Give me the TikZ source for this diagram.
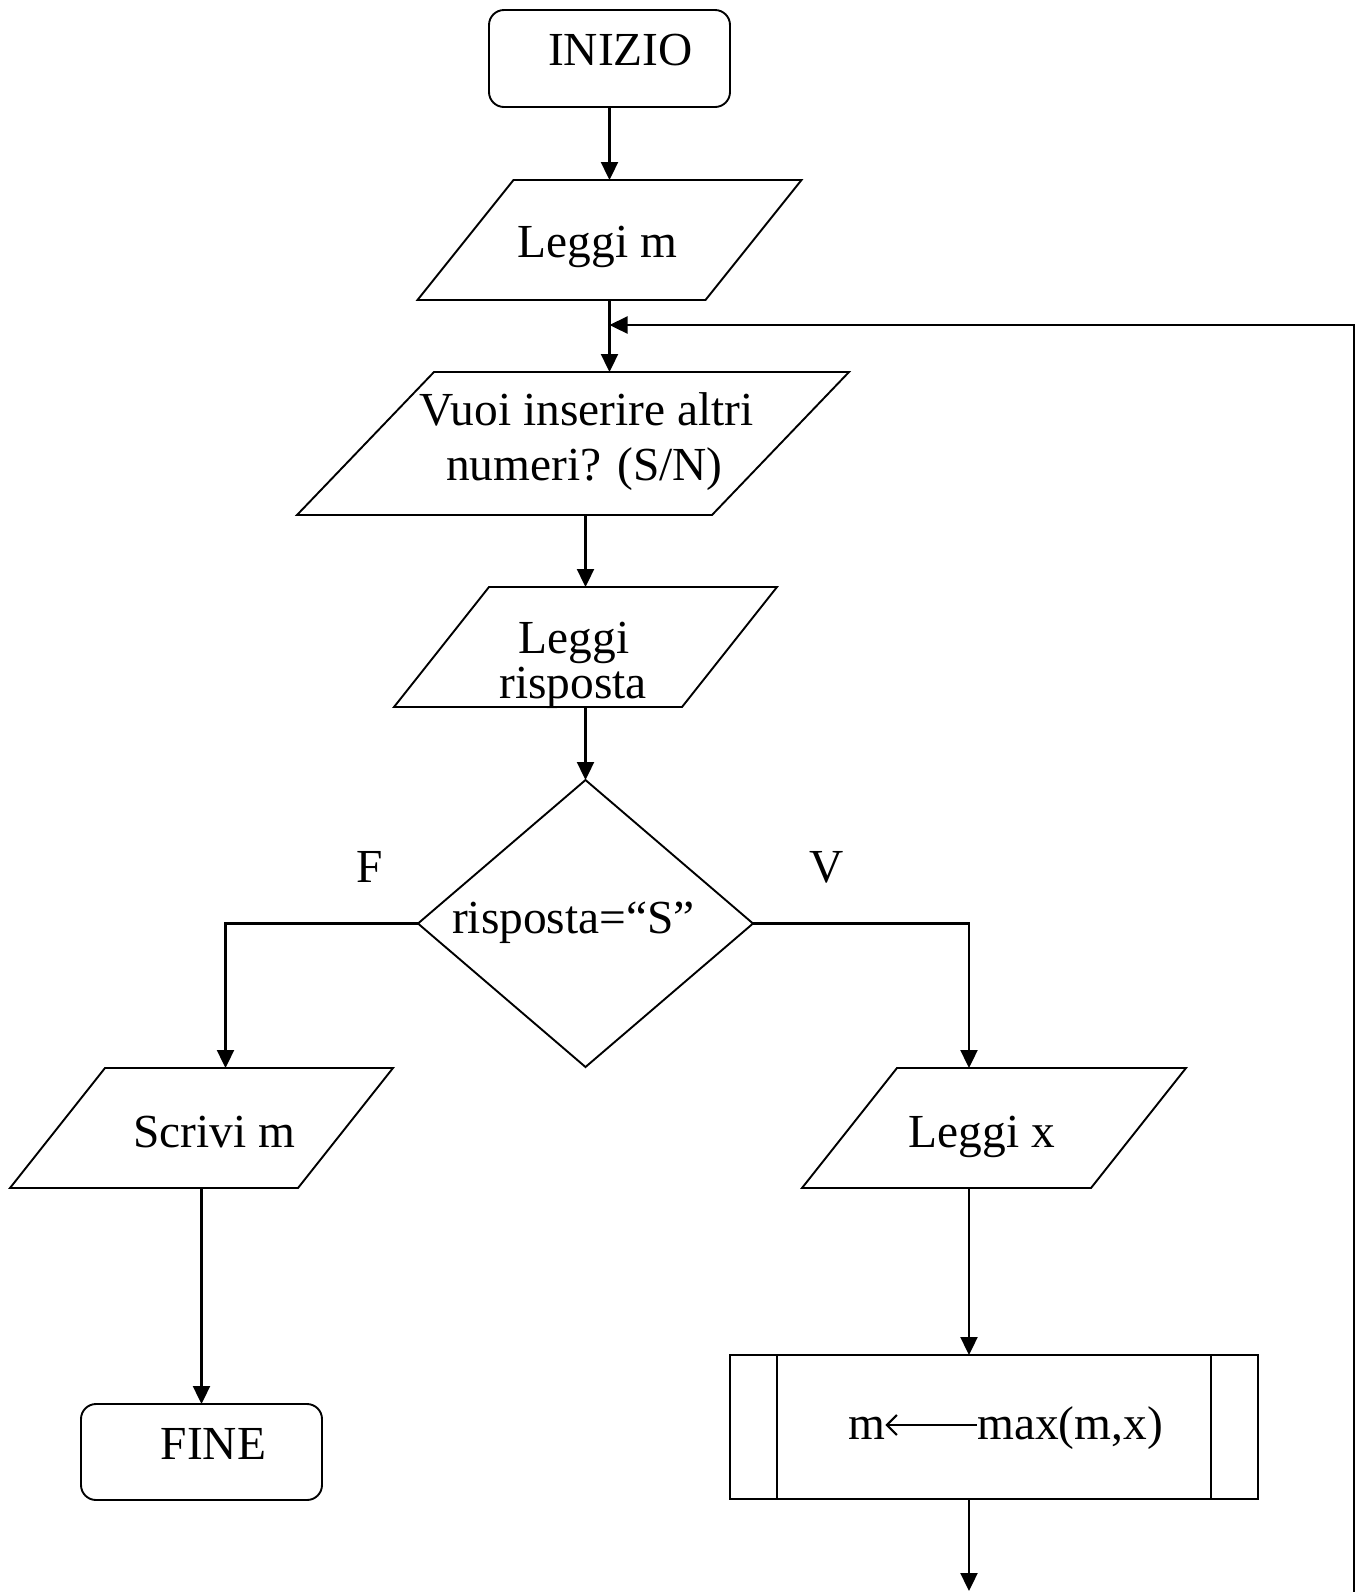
\documentclass[tikz,border=0pt]{standalone}
\usepackage{fontspec}
\setmainfont{Liberation Serif}
\usetikzlibrary{arrows.meta,calc}
\tikzset{
  shp/.style={draw=none, inner sep=0pt, outer sep=0pt, shape=rectangle},
  edge/.style={line width=0.95pt, line join=miter},
  arr/.style={line width=1.15pt, -{Triangle[length=9pt,width=8.5pt]}},
  lab/.style={anchor=base, inner sep=0pt, font=\fontsize{23.7}{28}\selectfont},
  term/.style={draw, line width=0.95pt, rounded corners=7.5pt, inner sep=0pt, outer sep=0pt},
  proc/.style={draw, line width=0.85pt, inner sep=0pt, outer sep=0pt},
}
\newcommand\drawpara[2]{%
  \draw[edge] (#1.south west) -- ([xshift=-#2]#1.south east) -- (#1.north east) -- ([xshift=#2]#1.north west) -- cycle;}
\newcommand\drawdiam[1]{%
  \draw[edge] (#1.north) -- (#1.east) -- (#1.south) -- (#1.west) -- cycle;}
\begin{document}
\begin{tikzpicture}[x=0.5pt,y=-0.5pt]
\useasboundingbox (0,0) rectangle (1359,1592);
% shapes
\node[term, minimum width=120.5pt, minimum height=48.5pt] (ini) at (609.5,58.5) {};
\node[shp, minimum width=192pt, minimum height=60pt] (lm) at (609.5,240) {};
\drawpara{lm}{48pt}
\node[shp, minimum width=276pt, minimum height=71.5pt] (vuoi) at (573,443.5) {};
\drawpara{vuoi}{68.5pt}
\node[shp, minimum width=191.5pt, minimum height=60pt] (lr) at (585.5,647) {};
\drawpara{lr}{47.5pt}
\node[shp, minimum width=167.5pt, minimum height=143.5pt] (dec) at (585.5,923.5) {};
\drawdiam{dec}
\node[shp, minimum width=191.5pt, minimum height=60pt] (sm) at (201.5,1128) {};
\drawpara{sm}{47.5pt}
\node[shp, minimum width=192pt, minimum height=60pt] (lx) at (994,1128) {};
\drawpara{lx}{47.5pt}
\node[proc, minimum width=264pt, minimum height=72pt] (pr) at (994,1427) {};
\draw[proc] ([xshift=23.5pt]pr.north west) -- ([xshift=23.5pt]pr.south west);
\draw[proc] ([xshift=-23.5pt]pr.north east) -- ([xshift=-23.5pt]pr.south east);
\node[term, minimum width=120.5pt, minimum height=48pt] (fine) at (201.5,1452) {};
% labels
\node[lab] (tini) at (620.5,65) {INIZIO};
\node[lab] (tlm) at (597.5,257) {Leggi m};
\node[lab] (tv1) at (586.5,425) {Vuoi inserire altri};
\node[lab] (tv2) at (584.5,480) {numeri? (S/N)};
\node[lab] (tlr1) at (574,653) {Leggi};
\node[lab] (tlr2) at (573,698) {risposta};
\node[lab] (tF) at (370,882) {F};
\node[lab] (tV) at (827,882) {V};
\node[lab] (tdec) at (573.5,933) {risposta=“S”};
\node[lab] (tsm) at (214,1147) {Scrivi m};
\node[lab] (tlx) at (982,1147) {Leggi x};
\node[lab] (tfine) at (213.5,1459) {FINE};
\node[lab] (tm1) at (866.5,1439) {m};
\node[lab] (tm2) at (1070,1439) {max(m,x)};
\draw[line width=0.8pt, {Straight Barb[length=5pt,width=10pt,line width=1.1pt]}-] (tm1.east |- 0,1425) -- (tm2.west |- 0,1425);
% coordinates
\coordinate (jn) at (lm.south |- 0,325);
\coordinate (smt) at ([xshift=12pt]sm.north);
\coordinate (lxt) at ([xshift=-12.5pt]lx.north);
\coordinate (lxb) at ([xshift=-12.5pt]lx.south);
\coordinate (bot) at (lxb |- 0,1591);
\coordinate (loopb) at (1354,1610);
% connectors
\draw[arr] (ini.south) -- (lm.north);
\draw[arr] (lm.south) -- (lm.south |- vuoi.north);
\draw[arr] (vuoi.south -| lr.north) -- (lr.north);
\draw[arr] (lr.south) -- (dec.north);
\draw[arr] (dec.west) -| (smt);
\draw[arr] (dec.east) -| (lxt);
\draw[arr] (lxb) -- (lxb |- pr.north);
\draw[arr] (sm.south) -- (fine.north);
\draw[arr] (pr.south -| lxb) -- (bot);
\draw[arr] (loopb) |- (jn);
\end{tikzpicture}
\end{document}
